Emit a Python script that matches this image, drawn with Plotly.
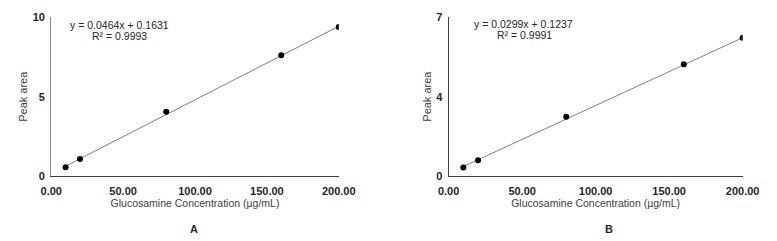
import plotly.graph_objects as go

conc = [10, 20, 80, 160, 200]
area_a = [0.55, 1.07, 4.05, 7.62, 9.40]
area_b = [0.38, 0.70, 2.62, 4.93, 6.10]
slope_a, icpt_a = 0.0464, 0.1631
slope_b, icpt_b = 0.0299, 0.1237
eq_a = ["y = 0.0464x + 0.1631", "R² = 0.9993"]
eq_b = ["y = 0.0299x + 0.1237", "R² = 0.9991"]
xticks = [0, 50, 100, 150, 200]
xticktext = ["0.00", "50.00", "100.00", "150.00", "200.00"]
yticks_a = [0, 5, 10]
yticktext_a = ["0", "5", "10"]
yticks_b = [0, 3.5, 7]
yticktext_b = ["0", "4", "7"]
panel_labels = ["A", "B"]
ytitle = "Peak area"
xtitle = "Glucosamine Concentration (µg/mL)"

FONT = "Liberation Sans, Arial, sans-serif"
fig = go.Figure()

for i, (ys, m, b) in enumerate([(area_a, slope_a, icpt_a), (area_b, slope_b, icpt_b)]):
    xa = "x" if i == 0 else "x2"
    ya = "y" if i == 0 else "y2"
    fx = [conc[0], conc[-1]]
    fig.add_trace(go.Scatter(x=fx, y=[m * v + b for v in fx], mode="lines",
                             line=dict(color="#7f7f7f", width=1), xaxis=xa, yaxis=ya,
                             showlegend=False, hoverinfo="skip"))
    fig.add_trace(go.Scatter(x=conc, y=ys, mode="markers",
                             marker=dict(color="black", size=6), xaxis=xa, yaxis=ya,
                             showlegend=False))

xcommon = dict(range=[0, 200], tickvals=xticks, ticktext=xticktext, showgrid=False,
               zeroline=False, showline=True, linecolor="#404040", linewidth=1.2,
               ticks="outside", ticklen=5, tickcolor="rgba(0,0,0,0)",
               tickfont=dict(family=FONT, size=11, color="#262626", weight="bold"),
               title=dict(text=xtitle,
                          font=dict(family=FONT, size=10.5, color="#404040"), standoff=3))
ycommon = dict(showgrid=False, zeroline=False, showline=True, linewidth=1.2,
               ticks="outside", ticklen=3, tickcolor="rgba(0,0,0,0)",
               tickfont=dict(family=FONT, size=11, color="#262626", weight="bold"))

fig.update_layout(
    width=777, height=241, margin=dict(l=0, r=0, t=0, b=0),
    paper_bgcolor="white", plot_bgcolor="white",
    xaxis=dict(domain=[0.0537, 0.4376], anchor="y", **xcommon),
    xaxis2=dict(domain=[0.5843, 0.9768], anchor="y2", **xcommon),
    yaxis=dict(domain=[0.2573, 0.9502], anchor="x", range=[0, 10], tickvals=yticks_a,
               ticktext=yticktext_a, linecolor="#8c8c8c", **ycommon),
    yaxis2=dict(domain=[0.2573, 0.9502], anchor="x2", range=[0, 7], tickvals=yticks_b,
                ticktext=yticktext_b, linecolor="#404040", **ycommon),
)

anns = [
    (113, 20, eq_a[0]), (113, 32, eq_a[1]),
    (532, 19, eq_b[0]), (533, 31, eq_b[1]),
]
for px, py, t in anns:
    fig.add_annotation(x=px / 777, y=1 - py / 241, xref="paper", yref="paper", text=t,
                       showarrow=False, xanchor="center", yanchor="middle",
                       font=dict(family=FONT, size=10.5, color="#262626"))
for px in [13, 432]:
    fig.add_annotation(x=px / 777, y=1 - 95 / 241, xref="paper", yref="paper", text=ytitle,
                       textangle=-90, showarrow=False, xanchor="center", yanchor="middle",
                       font=dict(family=FONT, size=11, color="#404040"))
for px, t in [(190, panel_labels[0]), (620, panel_labels[1])]:
    fig.add_annotation(x=px / 777, y=1 - 235 / 241, xref="paper", yref="paper", text="<b>" + t + "</b>",
                       showarrow=False, xanchor="center", yanchor="middle",
                       font=dict(family=FONT, size=11, color="#262626"))

fig.write_html("out.html")
